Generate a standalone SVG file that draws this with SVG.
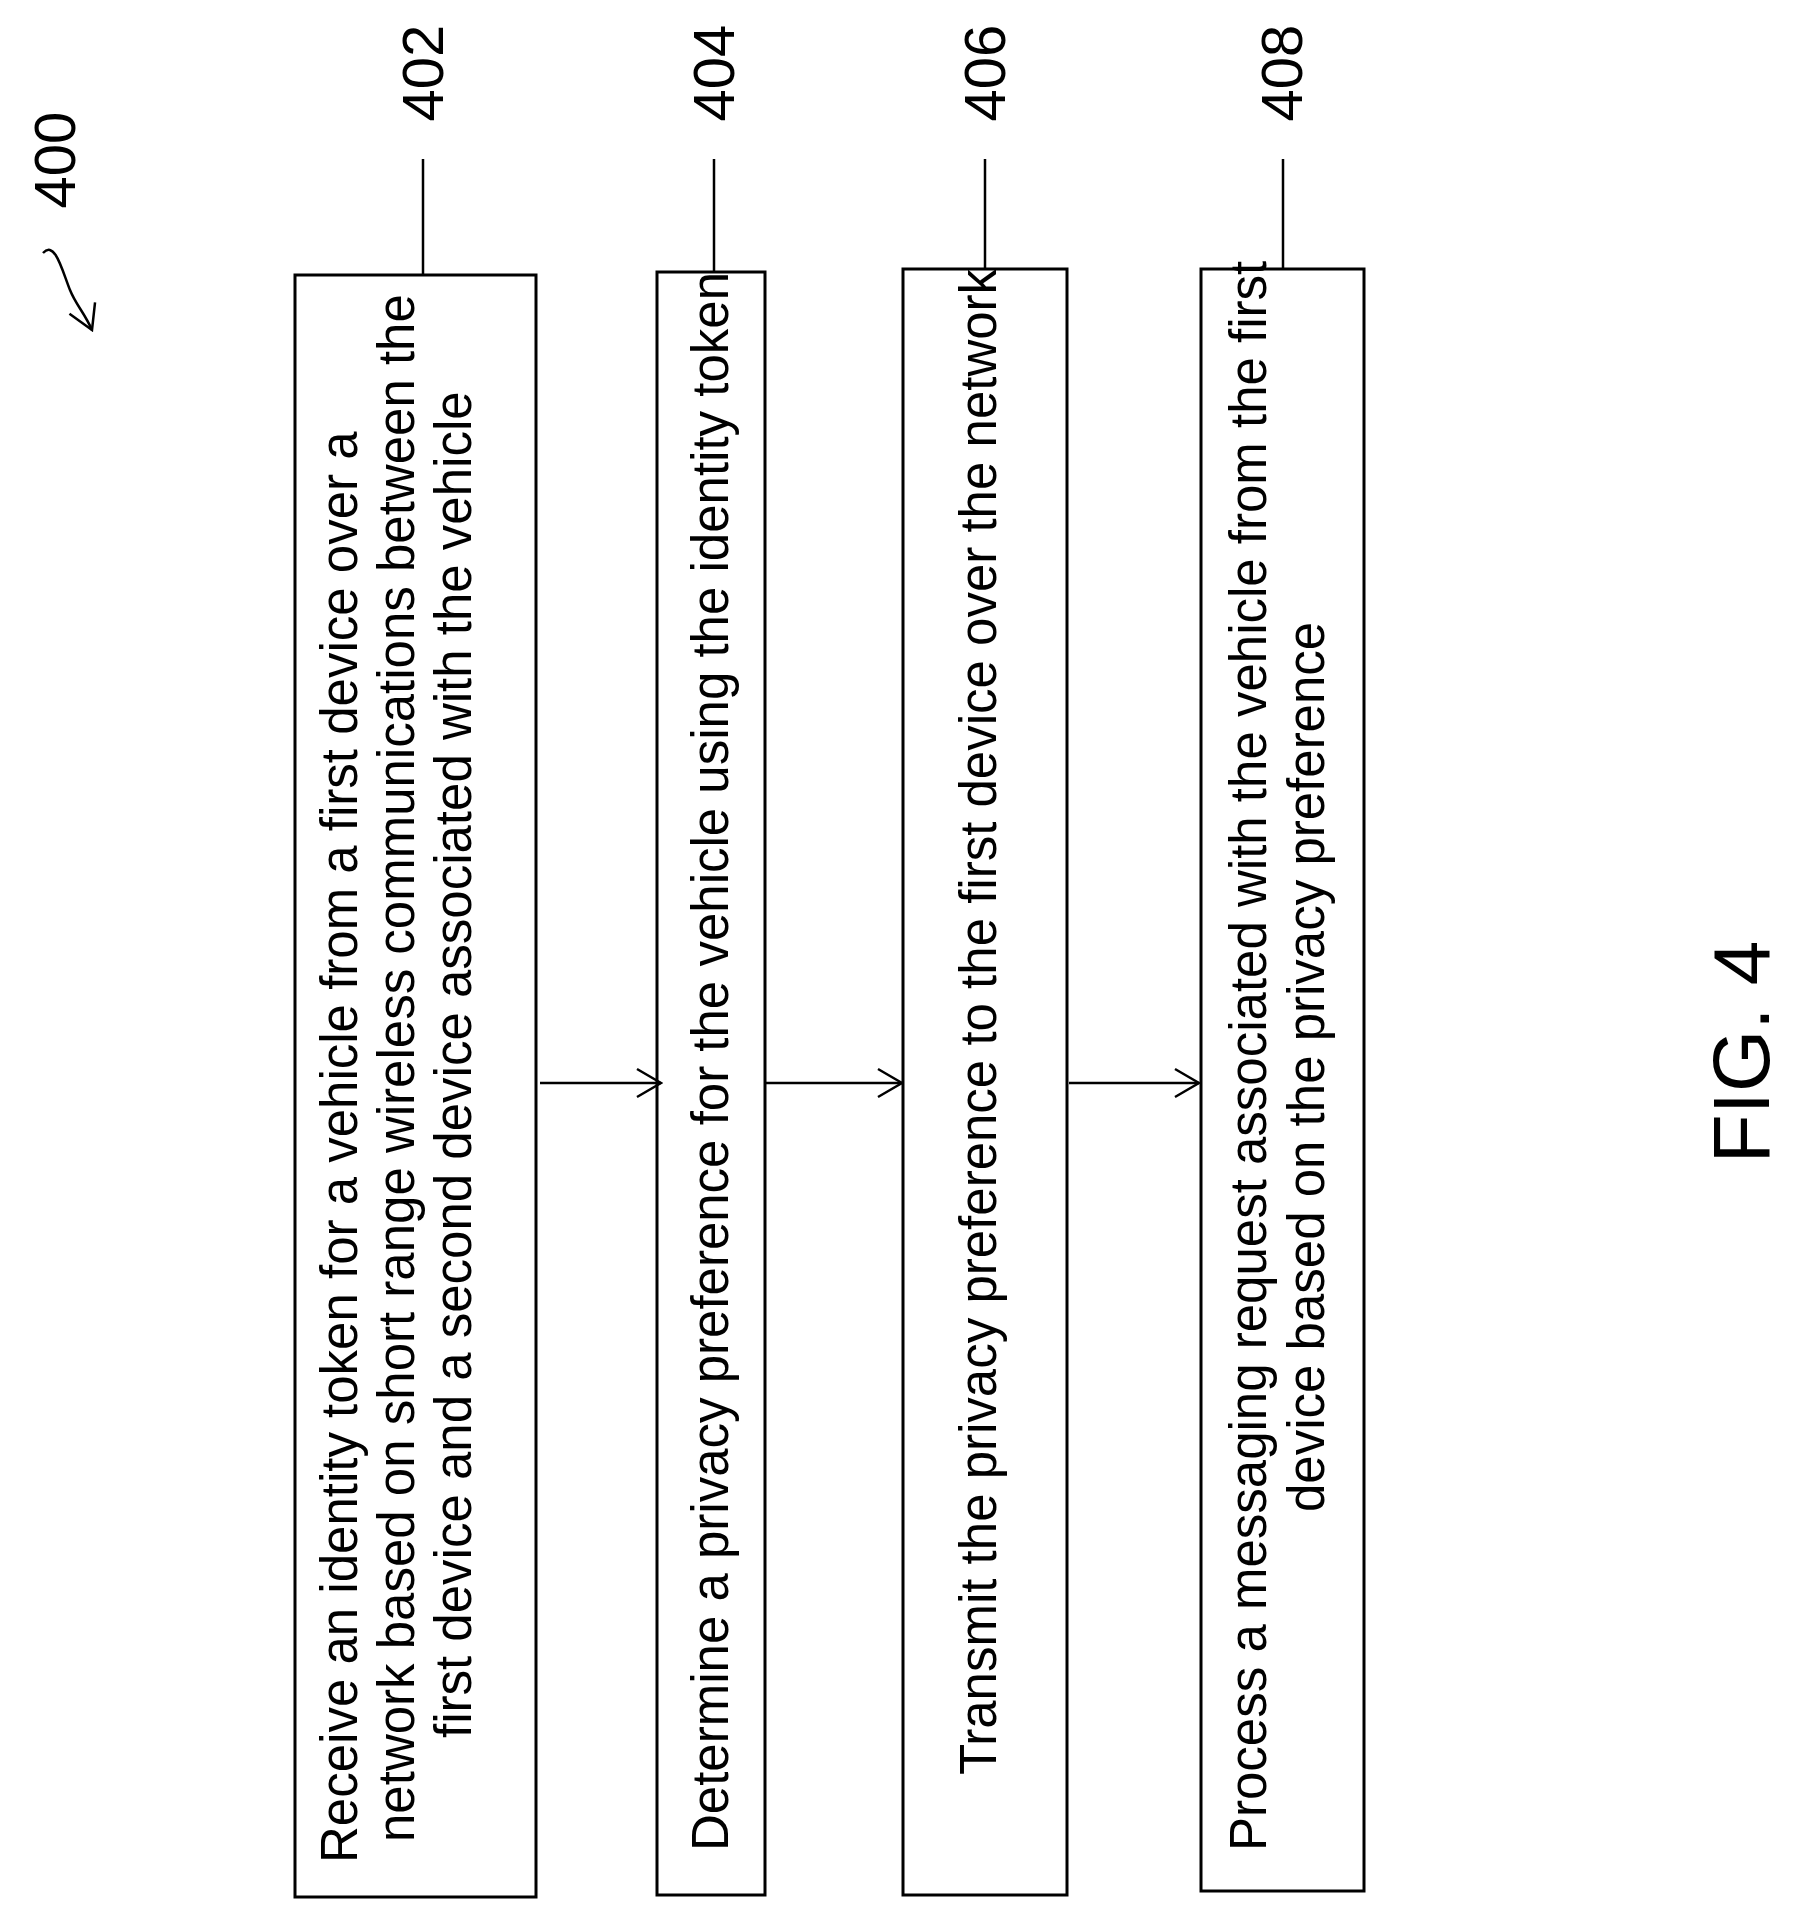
<svg xmlns="http://www.w3.org/2000/svg" width="1805" height="1923" viewBox="0 0 1805 1923">
<style>
.b{fill:none;stroke:#000;stroke-width:3}
.l{stroke:#000;stroke-width:2.5;fill:none}
text{font-family:"Liberation Sans",Arial,sans-serif;fill:#000}
.t{font-size:51px}
.n{font-size:58px}
</style>
<defs>
<marker id="a" markerWidth="30" markerHeight="32" refX="28" refY="16" orient="auto" markerUnits="userSpaceOnUse">
<path d="M4,2 L28,16 L4,30" fill="none" stroke="#000" stroke-width="2.5"/>
</marker>
</defs>
<rect width="1805" height="1923" fill="#fff"/>
<g id="label400">
<text class="n" transform="translate(75,160) rotate(-90)" text-anchor="middle">400</text>
<path class="l" d="M43,253 C55,240 62,270 70,290 C76,305 84,312 92,330" marker-end="url(#a)"/>
</g>
<g id="n402">
<rect class="b" x="295" y="275" width="241" height="1622"/>
<text class="t" transform="translate(357,1863) rotate(-90)">Receive an identity token for a vehicle from a first device over a</text>
<text class="t" transform="translate(414,1842) rotate(-90)">network based on short range wireless communications between the</text>
<text class="t" transform="translate(471,1738) rotate(-90)">first device and a second device associated with the vehicle</text>
<line class="l" x1="423" y1="159" x2="423" y2="275"/>
<text class="n" transform="translate(443,73) rotate(-90)" text-anchor="middle">402</text>
</g>
<g id="n404">
<rect class="b" x="657" y="272" width="108" height="1623"/>
<text class="t" transform="translate(728,1851) rotate(-90)">Determine a privacy preference for the vehicle using the identity token</text>
<line class="l" x1="714" y1="159" x2="714" y2="272"/>
<text class="n" transform="translate(734,73) rotate(-90)" text-anchor="middle">404</text>
</g>
<g id="n406">
<rect class="b" x="903" y="269" width="164" height="1626"/>
<text class="t" transform="translate(996,1775) rotate(-90)">Transmit the privacy preference to the first device over the network</text>
<line class="l" x1="985" y1="159" x2="985" y2="269"/>
<text class="n" transform="translate(1005,73) rotate(-90)" text-anchor="middle">406</text>
</g>
<g id="n408">
<rect class="b" x="1201" y="269" width="163" height="1622"/>
<text class="t" transform="translate(1266,1851) rotate(-90)">Process a messaging request associated with the vehicle from the first</text>
<text class="t" transform="translate(1324,1512) rotate(-90)">device based on the privacy preference</text>
<line class="l" x1="1283" y1="159" x2="1283" y2="269"/>
<text class="n" transform="translate(1302,73) rotate(-90)" text-anchor="middle">408</text>
</g>
<g id="connectors">
<line class="l" x1="540" y1="1083" x2="661" y2="1083" marker-end="url(#a)"/>
<line class="l" x1="766" y1="1083" x2="902" y2="1083" marker-end="url(#a)"/>
<line class="l" x1="1069" y1="1083" x2="1199" y2="1083" marker-end="url(#a)"/>
</g>
<text transform="translate(1769,1052) rotate(-90)" text-anchor="middle" font-size="80">FIG. 4</text>
</svg>
